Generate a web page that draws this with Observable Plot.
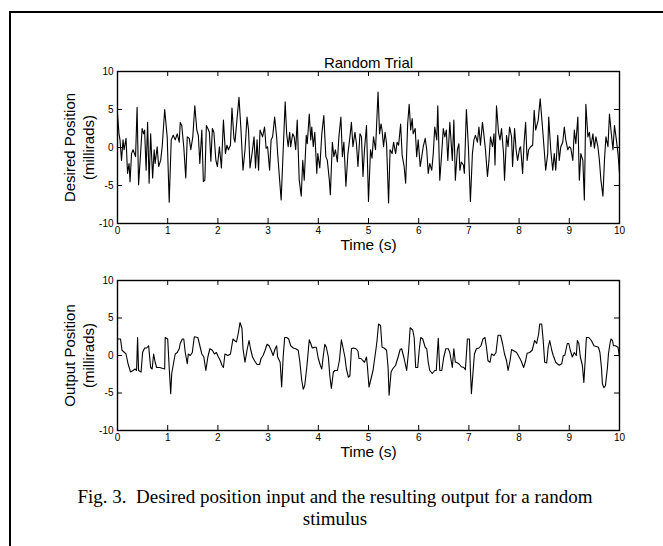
<!DOCTYPE html>
<html>
<head>
<meta charset="utf-8">
<script src="https://cdn.jsdelivr.net/npm/d3@7"></script>
<script src="https://cdn.jsdelivr.net/npm/@observablehq/plot@0.6"></script>
<style>
  html, body { margin: 0; padding: 0; background: #fff; }
  body { width: 663px; height: 546px; overflow: hidden; position: relative; }
  #border { position: absolute; left: 9px; top: 11px; width: 640px; height: 530px; border-left: 2px solid #000; border-top: 2px solid #000; z-index: 5; pointer-events: none; }
  #borderTop { position: absolute; left: 9px; top: 11px; width: 654px; height: 0; border-top: 2px solid #000; z-index: 5; }
  #borderLeft { position: absolute; left: 9px; top: 11px; width: 0; height: 535px; border-left: 2px solid #000; z-index: 5; }
  .panel { position: absolute; left: 0; }
  #caption { position: absolute; left: 5px; width: 660px; top: 486px; text-align: center;
    font-family: "Liberation Serif", "Times New Roman", serif; font-size: 19px; line-height: 22px; color: #000; }
</style>
</head>
<body>
<div id="borderTop"></div>
<div id="borderLeft"></div>
<div id="top" class="panel" style="top:0px"></div>
<div id="bottom" class="panel" style="top:260px"></div>
<div id="caption">Fig. 3.&nbsp; Desired position input and the resulting output for a random<br>stimulus</div>
<script>
const xTicks = [0, 1, 2, 3, 4, 5, 6, 7, 8, 9, 10];
const yTicks = [-10, -5, 0, 5, 10];
const titleText = "Random Trial";
const xLabel = "Time (s)";
const topYLabel = "Desired Position\n(millirads)";
const bottomYLabel = "Output Position\n(millirads)";

// Desired position [time (s), millirads]
const desired = [
[0.00,4.4],[0.03,1.8],[0.05,1.0],[0.08,-1.7],[0.11,1.0],[0.13,-0.3],[0.17,1.2],[0.20,-3.4],[0.23,-2.1],[0.25,-4.5],
[0.28,-0.8],[0.31,-0.3],[0.36,-1.2],[0.39,5.3],[0.42,-4.9],[0.46,-0.8],[0.49,2.5],[0.52,1.8],[0.54,2.3],[0.57,-3.0],
[0.60,3.3],[0.63,-4.7],[0.66,1.8],[0.70,-4.0],[0.73,-0.3],[0.75,-2.1],[0.79,0.1],[0.82,-2.5],[0.86,-1.7],[0.89,0.1],
[0.94,5.0],[0.99,1.4],[1.03,-7.2],[1.07,1.0],[1.11,1.6],[1.15,1.0],[1.19,1.8],[1.23,0.7],[1.25,3.3],[1.28,2.9],
[1.32,0.1],[1.36,-4.0],[1.39,1.4],[1.43,1.2],[1.46,-0.3],[1.50,1.4],[1.54,5.5],[1.58,2.3],[1.61,1.6],[1.64,-2.1],
[1.68,2.3],[1.71,-4.5],[1.74,-4.3],[1.77,2.9],[1.80,2.5],[1.83,2.0],[1.86,-1.8],[1.89,2.5],[1.92,2.0],[1.96,-1.7],
[1.99,-2.5],[2.03,0.1],[2.07,-2.7],[2.11,3.6],[2.15,-0.8],[2.18,0.3],[2.21,-0.3],[2.25,0.3],[2.28,5.2],[2.32,1.2],
[2.34,0.7],[2.38,3.7],[2.42,6.6],[2.46,2.3],[2.50,-3.0],[2.54,-0.3],[2.58,4.0],[2.61,2.3],[2.64,-2.7],[2.68,-0.8],
[2.72,1.4],[2.75,-2.7],[2.78,1.0],[2.81,-3.0],[2.84,2.3],[2.89,1.4],[2.93,2.7],[2.96,-0.1],[2.99,0.1],[3.03,-3.0],
[3.06,1.0],[3.09,1.4],[3.13,4.0],[3.17,1.4],[3.19,-0.8],[3.23,-4.3],[3.26,-6.9],[3.34,6.0],[3.37,1.8],[3.40,0.1],
[3.43,2.0],[3.45,0.1],[3.49,1.8],[3.52,1.4],[3.55,-0.3],[3.58,3.6],[3.62,-4.3],[3.66,-6.4],[3.69,-1.7],[3.72,-4.3],
[3.76,1.6],[3.78,0.5],[3.82,4.4],[3.85,1.0],[3.87,2.7],[3.90,0.1],[3.93,2.0],[3.97,-3.4],[3.99,-0.8],[4.03,-2.7],
[4.07,1.8],[4.11,4.2],[4.15,-1.2],[4.18,-1.7],[4.22,-4.3],[4.24,-6.2],[4.28,0.7],[4.31,-1.2],[4.34,-0.3],[4.38,-1.9],
[4.41,1.4],[4.45,4.0],[4.48,-1.2],[4.51,0.7],[4.55,-5.1],[4.59,-0.8],[4.63,1.4],[4.66,3.3],[4.69,0.1],[4.73,2.0],
[4.76,0.5],[4.79,-2.5],[4.83,1.8],[4.86,1.4],[4.89,-3.8],[4.92,-0.3],[4.96,2.9],[5.00,-7.1],[5.04,-0.3],[5.07,-1.4],
[5.10,1.4],[5.14,-0.3],[5.19,7.3],[5.22,1.8],[5.25,3.1],[5.27,2.3],[5.30,0.1],[5.33,2.0],[5.36,0.5],[5.40,-7.3],
[5.43,-0.3],[5.47,-0.8],[5.50,0.7],[5.54,-0.8],[5.57,0.7],[5.60,0.3],[5.64,3.1],[5.67,-1.0],[5.71,-2.5],[5.74,-4.7],
[5.78,3.1],[5.81,5.7],[5.84,2.3],[5.87,3.8],[5.89,1.8],[5.93,2.5],[5.96,-1.2],[5.99,1.0],[6.03,-2.5],[6.05,-1.7],
[6.09,0.1],[6.13,1.2],[6.16,-0.3],[6.19,-3.4],[6.22,-2.1],[6.26,-3.0],[6.29,-0.8],[6.32,2.7],[6.36,1.0],[6.38,5.5],
[6.42,-4.3],[6.46,-0.6],[6.49,2.5],[6.52,1.4],[6.55,2.3],[6.58,-1.7],[6.62,3.3],[6.67,-1.7],[6.70,3.6],[6.73,-4.3],
[6.77,-0.3],[6.80,0.5],[6.82,-3.0],[6.85,-1.9],[6.89,-2.3],[6.91,-3.4],[6.95,5.0],[6.99,0.1],[7.03,-7.1],[7.07,-0.8],
[7.10,1.0],[7.13,1.6],[7.17,0.7],[7.20,2.7],[7.23,0.3],[7.27,3.3],[7.30,1.6],[7.33,-0.3],[7.37,-3.8],[7.40,-1.7],
[7.43,1.4],[7.47,0.1],[7.50,1.8],[7.52,-2.3],[7.55,5.5],[7.59,2.0],[7.62,1.0],[7.65,2.5],[7.69,-0.8],[7.71,-4.3],
[7.75,1.6],[7.78,0.1],[7.81,2.7],[7.85,1.4],[7.87,-2.5],[7.91,2.5],[7.94,-0.3],[7.97,-1.7],[8.01,-0.1],[8.03,0.1],
[8.07,-3.4],[8.10,0.7],[8.13,3.3],[8.16,-1.7],[8.19,-0.3],[8.23,0.1],[8.27,0.3],[8.30,4.9],[8.33,2.3],[8.38,3.6],
[8.42,6.4],[8.47,2.3],[8.50,-0.3],[8.53,-3.0],[8.57,-0.8],[8.59,4.0],[8.63,-0.3],[8.67,-3.0],[8.70,-0.8],[8.73,-3.0],
[8.77,1.6],[8.80,-1.7],[8.83,0.1],[8.87,0.7],[8.90,2.7],[8.93,1.0],[8.97,-0.3],[9.00,0.1],[9.03,-0.1],[9.07,-1.7],
[9.10,2.3],[9.13,0.5],[9.17,4.0],[9.20,-4.3],[9.23,-0.8],[9.27,-1.7],[9.30,-6.9],[9.33,5.7],[9.37,1.4],[9.40,2.0],
[9.43,0.1],[9.47,1.8],[9.50,-0.1],[9.53,1.4],[9.57,0.1],[9.60,-1.7],[9.63,-4.3],[9.67,-6.4],[9.70,-1.7],[9.73,1.4],
[9.77,0.1],[9.80,4.4],[9.83,2.3],[9.87,-0.3],[9.90,2.9],[9.93,1.4],[9.97,-0.8],[10.00,-3.4]
];

// Output position [time (s), millirads]
const output = [
[0.01,2.2],[0.06,2.2],[0.09,0.7],[0.14,0.4],[0.17,0.2],[0.21,-1.1],[0.26,-2.2],[0.31,-2.0],[0.35,-1.8],[0.38,-2.0],
[0.40,2.4],[0.42,-2.0],[0.47,-2.2],[0.50,0.4],[0.54,1.0],[0.58,1.0],[0.62,1.3],[0.66,-1.6],[0.69,-1.8],[0.72,0.2],
[0.75,-0.9],[0.78,-1.6],[0.84,-1.6],[0.89,-1.7],[0.94,-1.8],[0.95,2.4],[1.00,2.2],[1.03,-1.6],[1.06,-5.1],[1.08,-2.4],
[1.12,-0.9],[1.15,0.2],[1.19,0.4],[1.23,0.9],[1.25,1.6],[1.29,2.2],[1.32,2.2],[1.35,0.4],[1.39,-1.1],[1.41,0.2],
[1.45,0.0],[1.49,0.4],[1.53,2.5],[1.60,2.4],[1.63,1.6],[1.68,0.2],[1.72,-0.2],[1.76,-2.0],[1.80,-0.2],[1.84,0.9],
[1.89,0.7],[1.93,0.2],[1.97,0.4],[2.01,-0.2],[2.05,-0.7],[2.08,-1.3],[2.11,-1.6],[2.14,0.2],[2.20,0.0],[2.25,0.2],
[2.30,2.2],[2.33,2.0],[2.37,1.8],[2.41,3.1],[2.44,4.4],[2.48,3.6],[2.50,0.9],[2.54,-0.9],[2.58,0.7],[2.62,2.0],
[2.65,0.9],[2.69,-0.2],[2.73,-0.7],[2.78,-1.2],[2.83,-1.2],[2.86,-0.4],[2.90,0.0],[2.94,0.7],[2.98,1.5],[3.02,1.3],
[3.06,0.7],[3.10,0.0],[3.14,0.9],[3.17,1.3],[3.19,-0.2],[3.24,-0.9],[3.27,-4.2],[3.30,-0.2],[3.33,2.4],[3.37,2.4],
[3.41,2.2],[3.45,1.3],[3.50,1.0],[3.55,0.9],[3.60,0.7],[3.63,-0.7],[3.67,-3.3],[3.70,-4.5],[3.73,-4.0],[3.77,-1.6],
[3.79,-0.2],[3.82,2.1],[3.85,1.6],[3.88,1.0],[3.93,1.1],[3.96,1.1],[4.00,-0.4],[4.04,-1.3],[4.07,-1.8],[4.10,0.0],
[4.13,1.5],[4.16,1.1],[4.20,-0.2],[4.23,-2.7],[4.26,-4.4],[4.30,-2.2],[4.33,-2.0],[4.38,-2.0],[4.42,-0.7],[4.46,2.1],
[4.49,1.1],[4.53,-0.2],[4.56,-1.8],[4.60,-2.9],[4.63,-2.7],[4.66,0.9],[4.70,1.0],[4.75,0.9],[4.79,0.6],[4.81,-0.4],
[4.85,-0.4],[4.89,-0.7],[4.92,-0.9],[4.96,-0.2],[4.98,-1.6],[5.01,-4.2],[5.05,-3.1],[5.09,-2.0],[5.15,0.9],[5.17,2.0],
[5.20,4.2],[5.24,4.0],[5.27,1.1],[5.31,1.0],[5.36,0.7],[5.39,-1.6],[5.41,-5.3],[5.45,-2.2],[5.48,-1.8],[5.54,-1.3],
[5.59,-0.2],[5.63,0.8],[5.66,0.9],[5.71,-0.4],[5.76,-2.0],[5.80,0.7],[5.83,3.7],[5.88,3.4],[5.91,2.4],[5.94,-1.6],
[5.98,-1.6],[6.01,0.7],[6.04,2.4],[6.08,2.2],[6.13,1.1],[6.16,0.9],[6.19,-0.9],[6.22,-2.0],[6.27,-2.4],[6.32,-2.0],
[6.35,-2.0],[6.37,0.2],[6.39,2.3],[6.42,-2.0],[6.46,-2.0],[6.50,-0.2],[6.54,0.9],[6.59,0.9],[6.62,0.4],[6.67,-1.6],
[6.70,0.9],[6.73,-0.9],[6.75,-0.9],[6.80,-1.1],[6.85,-1.5],[6.90,-1.6],[6.93,-1.9],[6.97,2.2],[7.01,2.2],[7.03,-2.0],
[7.05,-5.1],[7.08,-2.4],[7.11,0.2],[7.15,0.9],[7.20,1.0],[7.24,1.3],[7.28,2.2],[7.32,2.4],[7.35,1.1],[7.38,-0.7],
[7.42,-0.9],[7.45,0.2],[7.50,0.0],[7.54,0.4],[7.58,2.7],[7.63,2.7],[7.67,1.6],[7.71,0.2],[7.75,-0.7],[7.78,-2.0],
[7.82,-0.7],[7.85,0.8],[7.90,0.6],[7.95,0.4],[8.00,-0.2],[8.04,-0.7],[8.09,-1.6],[8.13,-0.7],[8.16,0.3],[8.21,0.4],
[8.26,0.7],[8.31,2.0],[8.35,1.6],[8.39,2.9],[8.41,4.2],[8.45,4.2],[8.48,2.0],[8.51,-0.9],[8.55,-1.0],[8.58,1.1],
[8.61,2.0],[8.65,0.7],[8.68,0.0],[8.73,-0.9],[8.76,-1.1],[8.80,-1.3],[8.85,-1.1],[8.88,0.0],[8.91,0.0],[8.96,1.6],
[8.99,1.6],[9.02,0.7],[9.06,-0.2],[9.10,0.4],[9.14,0.0],[9.16,2.0],[9.19,1.6],[9.22,-0.2],[9.26,-1.3],[9.29,-3.6],
[9.32,-0.2],[9.34,2.4],[9.39,2.4],[9.44,2.0],[9.49,1.3],[9.54,1.2],[9.58,1.1],[9.61,0.4],[9.64,-1.6],[9.66,-3.8],
[9.69,-4.3],[9.72,-4.0],[9.76,-1.6],[9.78,0.2],[9.81,1.6],[9.83,2.2],[9.86,2.0],[9.88,1.3],[9.92,1.3],[9.97,1.1],
[10.00,-0.2]
];

const FW = 663;
const ML = 117, MR = 44;
const plotStyle = {fontFamily: "Arial, 'Liberation Sans', Helvetica, sans-serif", fontSize: "10px", color: "#000", background: "transparent", overflow: "visible"};
const fmt = d => String(d);

function panel(data, yLabel, {height, marginTop, marginBottom, title}) {
  const fh = height - marginTop - marginBottom;
  const fw = FW - ML - MR;
  const marks = [
    Plot.line(data, {x: d => d[0], y: d => d[1], stroke: "#000", strokeWidth: 1.1, strokeLinejoin: "round"}),
    Plot.frame({stroke: "#000", strokeWidth: 1.4}),
    Plot.tickX(xTicks, {x: d => d, insetTop: fh - 5, stroke: "#000"}),
    Plot.tickX(xTicks, {x: d => d, insetBottom: fh - 5, stroke: "#000"}),
    Plot.tickY(yTicks, {y: d => d, insetRight: fw - 5, stroke: "#000"}),
    Plot.tickY(yTicks, {y: d => d, insetLeft: fw - 5, stroke: "#000"}),
    Plot.text([xLabel], {text: d => d, frameAnchor: "bottom", dy: 22, textAnchor: "middle", lineAnchor: "middle", fontSize: 15.5, fill: "#000"}),
    Plot.text([yLabel], {text: d => d, frameAnchor: "left", dx: -39.5, rotate: -90, textAnchor: "middle", lineAnchor: "middle", lineHeight: 1.27, fontSize: 15, fill: "#000"})
  ];
  if (title) marks.push(Plot.text([title], {text: d => d, frameAnchor: "top", dy: -8, textAnchor: "middle", lineAnchor: "middle", fontSize: 15, fill: "#000"}));
  return Plot.plot({
    width: FW, height, marginLeft: ML, marginRight: MR, marginTop, marginBottom,
    style: plotStyle,
    x: {domain: [0, 10], ticks: xTicks, tickSize: 0, tickPadding: 3, tickFormat: fmt, label: null},
    y: {domain: [-10, 10], ticks: yTicks, tickSize: 0, tickPadding: 4, tickFormat: fmt, label: null},
    marks
  });
}

document.getElementById("top").appendChild(panel(desired, topYLabel, {height: 260, marginTop: 71, marginBottom: 37, title: titleText}));
document.getElementById("bottom").appendChild(panel(output, bottomYLabel, {height: 200, marginTop: 20, marginBottom: 30}));
</script>
</body>
</html>
